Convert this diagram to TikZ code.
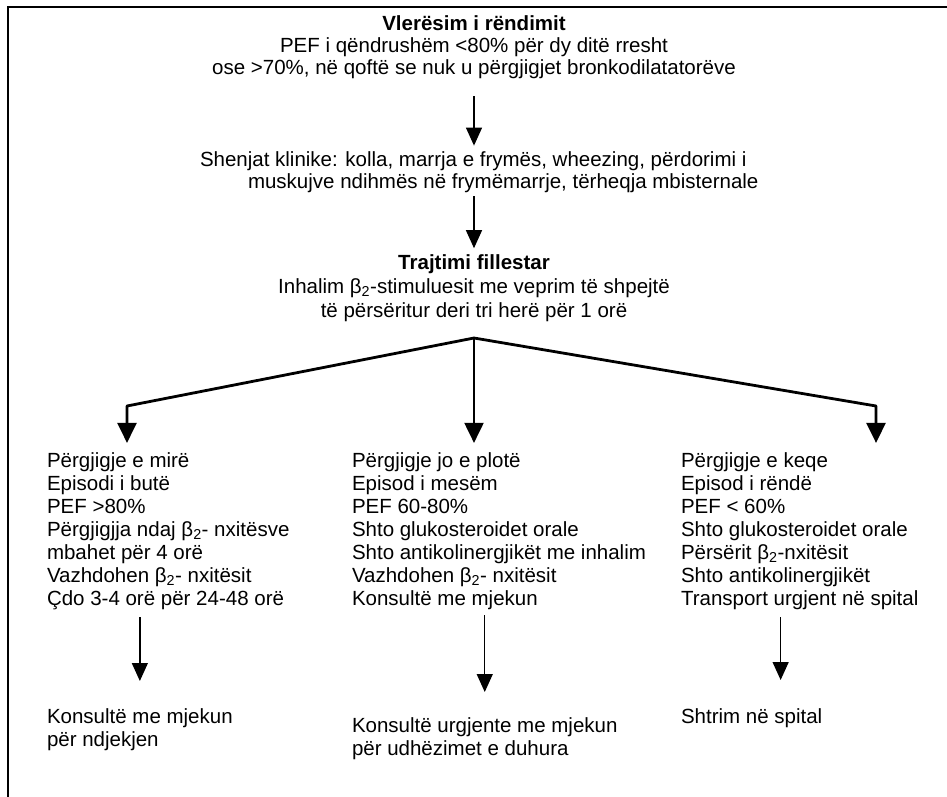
\documentclass[tikz,border=0pt]{standalone}
\usepackage{fontspec}
\setmainfont{Liberation Sans}
\usetikzlibrary{arrows.meta,calc}
\begin{document}
\begin{tikzpicture}[x=1pt,y=-1pt,
  txt/.style={inner sep=0pt, outer sep=0pt},
  fs22/.style={font=\fontsize{20.5}{22}\selectfont},
  fs23/.style={font=\fontsize{20.5}{23}\selectfont},
  fs24/.style={font=\fontsize{20.5}{24}\selectfont},
  tiptri/.style={-{Triangle[length=18pt,width=16pt]}},
  bigtri/.style={-{Triangle[length=20pt,width=19pt]}},
  thinarr/.style={line width=1.3pt, tiptri},
  thickarr/.style={line width=2.8pt, bigtri},
  midarr/.style={line width=2pt, bigtri}]
\useasboundingbox (0,0) rectangle (947,797);
\draw[line width=2pt] (8,797) -- (8,7) -- (947,7);

\node[txt, fs22, align=center, anchor=north] (assess) at (474,15.6)
  {\strut\textbf{Vlerësim i rëndimit}\\PEF i qëndrushëm <80\% për dy ditë rresht\\ose >70\%, në qoftë se nuk u përgjigjet bronkodilatatorëve};

\node[txt, fs22, align=left, anchor=north west] (symp) at (200,150.6)
  {\strut Shenjat klinike: kolla, marrja e frymës, wheezing, përdorimi i\\\hspace*{48pt}muskujve ndihmës në frymëmarrje, tërheqja mbisternale};

\node[txt, fs24, align=center, anchor=north] (init) at (474,252.2)
  {\strut\textbf{Trajtimi fillestar}\\Inhalim β\textsubscript{2}-stimuluesit me veprim të shpejtë\\të përsëritur deri tri herë për 1 orë};

\node[txt, fs23, align=left, anchor=north west] (good) at (47,450.9)
  {\strut Përgjigje e mirë\\Episodi i butë\\PEF >80\%\\Përgjigjja ndaj β\textsubscript{2}- nxitësve\\mbahet për 4 orë\\Vazhdohen β\textsubscript{2}- nxitësit\\Çdo 3-4 orë për 24-48 orë};
\node[txt, fs23, align=left, anchor=north west] (mid) at (352,450.9)
  {\strut Përgjigje jo e plotë\\Episod i mesëm\\PEF 60-80\%\\Shto glukosteroidet orale\\Shto antikolinergjikët me inhalim\\Vazhdohen β\textsubscript{2}- nxitësit\\Konsultë me mjekun};
\node[txt, fs23, align=left, anchor=north west] (bad) at (681,450.9)
  {\strut Përgjigje e keqe\\Episod i rëndë\\PEF < 60\%\\Shto glukosteroidet orale\\Përsërit β\textsubscript{2}-nxitësit\\Shto antikolinergjikët\\Transport urgjent në spital};

\node[txt, fs23, align=left, anchor=north west] (goodc) at (47,707)
  {\strut Konsultë me mjekun\\për ndjekjen};
\node[txt, fs23, align=left, anchor=north west] (midc) at (352,716)
  {\strut Konsultë urgjente me mjekun\\për udhëzimet e duhura};
\node[txt, fs23, align=left, anchor=north west] (badc) at (681,707)
  {\strut Shtrim në spital};

% top arrows
\draw[thinarr, shorten <=17pt, shorten >=5pt] (assess.south) -- (assess.south |- symp.north);
\draw[thinarr, shorten <=4pt, shorten >=4pt] (init.north |- symp.south) -- (init.north);

% branching
\coordinate (apex) at (474,338);
\coordinate (cl) at (127,406);
\coordinate (cr) at (876,406);
\draw[thickarr, shorten >=8pt, line join=round] (apex) -- (cl) -- (cl |- good.north);
\draw[thickarr, shorten >=8pt, line join=round] (apex) -- (cr) -- (cr |- bad.north);
\draw[midarr, shorten >=8pt] (apex) -- (apex |- mid.north);

% lower arrows
\draw[thinarr, shorten <=8pt, shorten >=26pt] (good.south -| goodc.north) -- (goodc.north);
\draw[thinarr, shorten <=6pt, shorten >=24pt] (mid.south -| midc.north) -- (midc.north);
\coordinate (badin) at ($(badc.north)+(29,0)$);
\draw[thinarr, shorten <=8pt, shorten >=27pt] (badin |- bad.south) -- (badin);
\end{tikzpicture}
\end{document}
